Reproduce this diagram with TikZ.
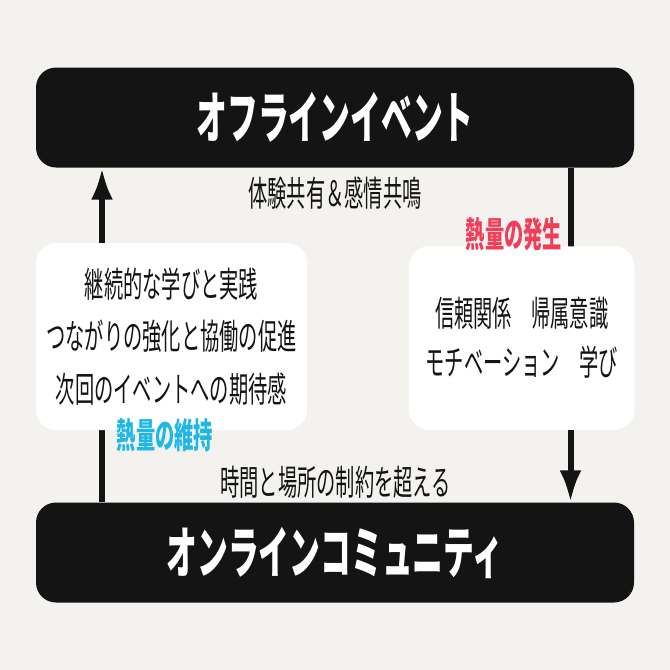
\documentclass[tikz,border=0pt]{standalone}
\usepackage{fontspec}
\setmainfont{Noto Sans CJK JP}[FakeStretch=0.55]
\usepackage{tikz}
\usetikzlibrary{
    arrows.meta,
    positioning
}
\definecolor{paper}{HTML}{F4F2EE}
\definecolor{ink}{HTML}{141414}
\definecolor{heatred}{HTML}{F03E5A}
\definecolor{heatcyan}{HTML}{1FB8E6}

\begin{document}
\begin{tikzpicture}[x=1pt,y=-1pt,
    bar/.style={fill=ink,text=white,rounded corners=20pt,minimum width=598pt,minimum height=100pt,
        font=\fontsize{56}{60}\selectfont\bfseries},
    card/.style={fill=white,rounded corners=20pt,align=center,text=ink},
    flow/.style={ink,line width=6pt,-{Latex[length=32pt,width=22pt]}},
    note/.style={text=ink,font=\fontsize{35}{40}\selectfont},
    heat/.style={font=\fontsize{35}{40}\selectfont\bfseries}]
    \fill[paper] (0,0) rectangle (670,670);
    \useasboundingbox (0,0) rectangle (670,670);

    \node[bar] (offline) at (335,117.5) {オフラインイベント};
    \node[bar] (online) at (335,552.5) {オンラインコミュニティ};

    \coordinate (upx) at (102,0);
    \coordinate (downx) at (570.5,0);
    \draw[flow] (upx |- online.north) -- (upx |- offline.south);
    \draw[flow] (downx |- offline.south) -- (downx |- online.north);

    \node[card,minimum width=271pt,minimum height=187pt,font=\fontsize{35}{52.5}\selectfont] (keep) at (171.5,336.5)
        {継続的な学びと実践\\つながりの強化と協働の促進\\次回のイベントへの期待感};
    \node[card,minimum width=225.5pt,minimum height=183.5pt,font=\fontsize{35}{49}\selectfont] (spark) at (521.75,338)
        {信頼関係　帰属意識\\モチベーション　学び};

    \node[note] (share) at (335,193) {体験共有＆感情共鳴};
    \node[note] (beyond) at (335.5,482) {時間と場所の制約を超える};
    \node[heat,text=heatred] (heatup) at (514,234) {熱量の発生};
    \node[heat,text=heatcyan] (heatkeep) at (165,435.5) {熱量の維持};
\end{tikzpicture}
\end{document}
